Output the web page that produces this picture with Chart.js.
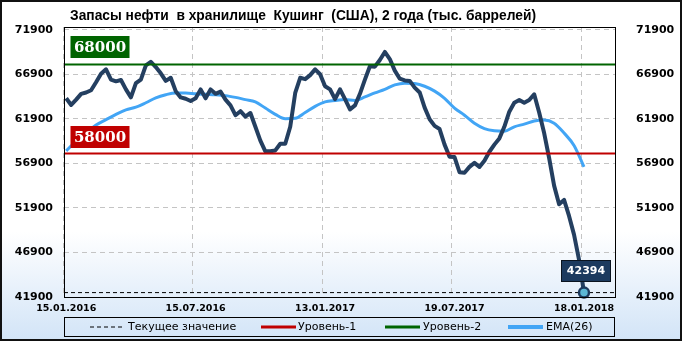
<!DOCTYPE html>
<html>
<head>
<meta charset="utf-8">
<script src="https://cdn.jsdelivr.net/npm/chart.js@4.4.0/dist/chart.umd.min.js"></script>
<style>
  html, body { margin: 0; padding: 0; background: #fff; }
  canvas { display: block; }
</style>
</head>
<body>
<canvas id="chart" width="682" height="341"></canvas>
<script>
// Cushing stocks, weekly, thousand barrels
const stocks = [
  64200, 63450, 64050, 64700, 64850, 65100, 66000, 66950, 67450, 66300,
  66100, 66250, 65200, 64300, 65900, 66300, 67900, 68300, 67700, 67000,
  66150, 66500, 65000, 64300, 64150, 63900, 64200, 65200, 64200, 65200,
  64700, 64950, 64050, 63400, 62300, 62750, 62150, 62550, 61000, 59450,
  58250, 58250, 58350, 59100, 59100, 61000, 64800, 66500, 66350, 66800,
  67450, 66900, 65550, 65200, 64100, 65200, 64100, 62950, 63400, 64700,
  66300, 67800, 67750, 68500, 69400, 68600, 67300, 66400, 66200, 66150,
  65400, 64850, 63150, 61850, 61100, 60750, 59000, 57650, 57600, 55900,
  55850, 56500, 56950, 56500, 57200, 58200, 59000, 59700, 61000, 62700,
  63700, 64000, 63700, 64000, 64650, 62600, 60300, 57500, 54400, 52300,
  52800, 51000, 48900, 46100, 42394
];

// EMA(26), read every 2nd week
const emaStep = 2;
const ema26 = [
  58300, 59400, 60300, 61200, 61800, 62400, 62900, 63200, 63700, 64250,
  64600, 64800, 64800, 64700, 64650, 64600, 64500, 64300, 64050, 63800,
  63100, 62400, 61900, 61950, 62600, 63300, 63800, 63950, 64050, 63950,
  64350, 64800, 65200, 65700, 65900, 65850, 65550, 65000, 64200, 63100,
  62300, 61400, 60800, 60550, 60500, 61000, 61300, 61650, 61750, 61400,
  60300, 58900, 56500
];

const level1 = 58000;
const level2 = 68000;

const tickIdx = [0, 26, 52, 78, 104];
const tickLabels = ['15.01.2016', '15.07.2016', '13.01.2017', '19.07.2017', '18.01.2018'];
const yTicks = [41900, 46900, 51900, 56900, 61900, 66900, 71900];

const xMin = -0.44, xMax = 110.23;
const gridShift = -0.58;
const last = stocks.length - 1;
const current = stocks[last];

const navy = '#243f60';
const emaBlue = '#42a5f5';
const red = '#c00000';
const green = '#006400';

const decor = {
  id: 'decor',
  beforeDraw(chart) {
    const {ctx, width, height} = chart;
    const g = ctx.createLinearGradient(0, 0, 0, height);
    g.addColorStop(0, '#ffffff');
    g.addColorStop(0.68, '#ffffff');
    g.addColorStop(1, '#d2e4f7');
    ctx.save();
    ctx.fillStyle = g;
    ctx.fillRect(0, 0, width, height);
    ctx.restore();
  },
  afterDatasetsDraw(chart) {
    const ctx = chart.ctx;
    const pt = chart.getDatasetMeta(2).data[last];
    const w = 49, h = 21;
    const bx = Math.round(pt.x + 1.5 - w / 2) + 0.5;
    const by = Math.round(pt.y - 12 - h) + 0.5;
    ctx.save();
    ctx.fillStyle = '#1c3a5e';
    ctx.strokeStyle = '#0a1420';
    ctx.lineWidth = 1;
    ctx.fillRect(bx, by, w, h);
    ctx.strokeRect(bx, by, w, h);
    ctx.fillStyle = '#fff';
    ctx.font = 'bold 11px "DejaVu Sans"';
    ctx.textAlign = 'center';
    ctx.textBaseline = 'middle';
    ctx.fillText(String(current), bx + w / 2, by + h / 2 + 0.5);
    ctx.restore();
  },
  afterDraw(chart) {
    const {ctx, chartArea: a, width, height} = chart;
    const ys = chart.scales.y;
    ctx.save();
    // plot frame
    ctx.strokeStyle = '#000';
    ctx.lineWidth = 1;
    ctx.strokeRect(Math.round(a.left) + 0.5, Math.round(a.top) + 0.5,
      Math.round(a.right - a.left), Math.round(a.bottom - a.top));
    // outer frame
    ctx.lineWidth = 2;
    ctx.strokeStyle = '#111';
    ctx.strokeRect(1, 1, width - 2, height - 2);

    // title
    ctx.fillStyle = '#000';
    ctx.font = 'bold 14px "Liberation Sans"';
    ctx.textAlign = 'left';
    ctx.textBaseline = 'middle';
    ctx.fillText('Запасы нефти  в хранилище  Кушинг  (США), 2 года (тыс. баррелей)', 70, 16.5, 466);

    // level badges
    const badge = (val, color) => {
      const yl = ys.getPixelForValue(val);
      const bx = 70.5, bw = 59, bh = 22;
      const by = Math.round(yl - 6 - bh);
      ctx.fillStyle = color;
      ctx.fillRect(bx, by, bw, bh);
      ctx.fillStyle = '#fff';
      ctx.font = 'bold 15px "DejaVu Serif"';
      ctx.textAlign = 'center';
      ctx.textBaseline = 'middle';
      ctx.fillText(String(val), bx + bw / 2, by + bh / 2 + 1);
    };
    badge(level2, green);
    badge(level1, red);

    // legend
    const ly = 327;
    ctx.strokeStyle = '#000';
    ctx.lineWidth = 1;
    ctx.strokeRect(64.5, 317.5, 550, 19);
    ctx.font = '11px "DejaVu Sans"';
    ctx.textAlign = 'left';
    ctx.textBaseline = 'middle';
    const item = (x1, x2, color, lw, dash, label, tx) => {
      ctx.beginPath();
      ctx.setLineDash(dash);
      ctx.strokeStyle = color;
      ctx.lineWidth = lw;
      ctx.moveTo(x1, ly);
      ctx.lineTo(x2, ly);
      ctx.stroke();
      ctx.setLineDash([]);
      ctx.fillStyle = '#000';
      ctx.fillText(label, tx, ly);
    };
    item(90, 122, '#000', 1, [4, 3], 'Текущее значение', 128);
    item(261, 296, red, 3, [], 'Уровень-1', 298);
    item(385, 420, green, 3, [], 'Уровень-2', 423);
    item(508, 543, emaBlue, 4, [], 'EMA(26)', 546);
    ctx.restore();
  }
};

const tickFont = { family: 'DejaVu Sans', size: 11, weight: 'bold' };

new Chart(document.getElementById('chart'), {
  type: 'line',
  data: {
    datasets: [
      {
        label: 'Уровень-1',
        data: [{x: xMin, y: level1}, {x: xMax, y: level1}],
        borderColor: red, borderWidth: 2, pointRadius: 0
      },
      {
        label: 'Уровень-2',
        data: [{x: xMin, y: level2}, {x: xMax, y: level2}],
        borderColor: green, borderWidth: 2, pointRadius: 0
      },
      {
        label: 'Запасы',
        data: stocks.map((v, i) => ({x: i, y: v})),
        borderColor: navy, borderWidth: 4, tension: 0,
        borderJoinStyle: 'round',
        pointRadius: ctx => ctx.dataIndex === last ? 5 : 0,
        pointBackgroundColor: '#5bb7d5',
        pointBorderColor: '#1c3a5e',
        pointBorderWidth: 2.5,
        clip: 8
      },
      {
        label: 'Текущее значение',
        data: [{x: xMin, y: current}, {x: xMax, y: current}],
        borderColor: '#000', borderWidth: 1, borderDash: [4, 3], pointRadius: 0
      },
      {
        label: 'EMA(26)',
        data: ema26.map((v, k) => ({x: k * emaStep, y: v})),
        borderColor: emaBlue, borderWidth: 3,
        cubicInterpolationMode: 'monotone', pointRadius: 0
      }
    ]
  },
  options: {
    responsive: false,
    animation: false,
    devicePixelRatio: 1,
    layout: { padding: { top: 27, left: 0, right: 0, bottom: 0 } },
    plugins: { legend: { display: false }, tooltip: { enabled: false } },
    scales: {
      x: {
        type: 'linear', min: xMin, max: xMax,
        afterBuildTicks: s => { s.ticks = tickIdx.map(v => ({value: v})); },
        afterFit: s => { s.height = 44; },
        grid: { display: false, drawTicks: false },
        border: { display: false },
        ticks: {
          autoSkip: false, maxRotation: 0, padding: 6, color: '#000',
          font: { family: 'DejaVu Sans', size: 9.5, weight: 'bold' },
          callback: v => tickLabels[tickIdx.indexOf(v)] ?? ''
        }
      },
      x2: {
        type: 'linear', position: 'bottom', min: xMin, max: xMax,
        afterBuildTicks: s => { s.ticks = tickIdx.map(v => ({value: v + gridShift})); },
        afterFit: s => { s.height = 0; },
        grid: { color: '#c4c4c4', lineWidth: 1, drawTicks: false },
        border: { display: false, dash: [5, 4] },
        ticks: { display: false }
      },
      y: {
        position: 'left', min: 41900, max: 72200,
        afterBuildTicks: s => { s.ticks = yTicks.map(v => ({value: v})); },
        afterFit: s => { s.width = 64; },
        grid: { color: '#c4c4c4', lineWidth: 1, drawTicks: false },
        border: { display: false, dash: [5, 4] },
        ticks: { padding: 11, color: '#000', font: tickFont, callback: v => String(v) }
      },
      y2: {
        position: 'right', min: 41900, max: 72200,
        afterBuildTicks: s => { s.ticks = yTicks.map(v => ({value: v})); },
        afterFit: s => { s.width = 67; },
        grid: { display: false },
        border: { display: false },
        ticks: { padding: 13, color: '#000', font: tickFont, callback: v => String(v) }
      }
    }
  },
  plugins: [decor]
});
</script>
</body>
</html>
